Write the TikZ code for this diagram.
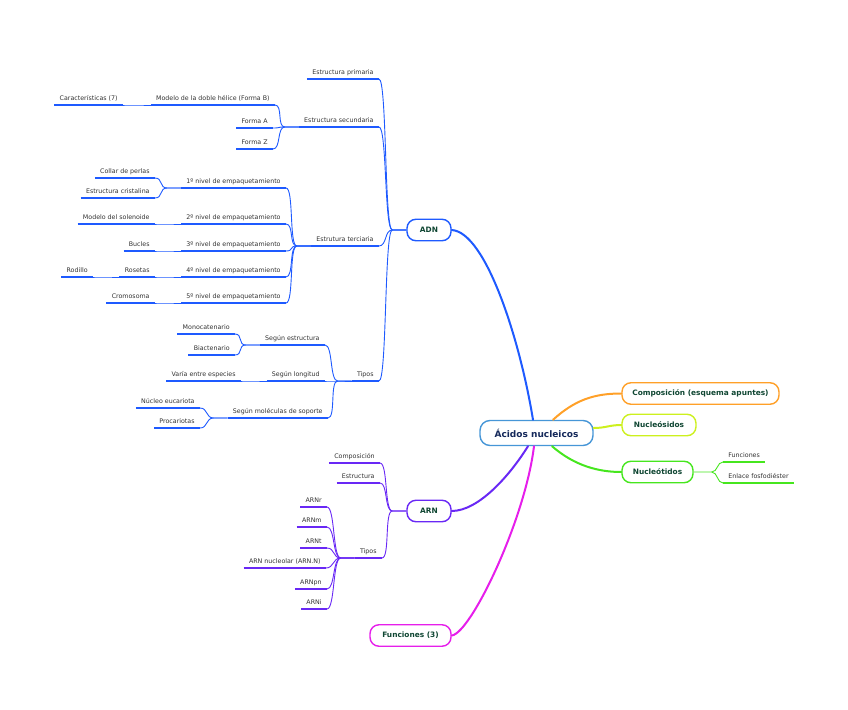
\documentclass[tikz,border=0pt]{standalone}
\usepackage{fontspec}
\setmainfont{DejaVu Sans}
\definecolor{cBlue}{RGB}{30,90,255}
\definecolor{cPurple}{RGB}{105,40,245}
\definecolor{cMag}{RGB}{230,30,235}
\definecolor{cOrange}{RGB}{255,160,40}
\definecolor{cYel}{RGB}{205,240,30}
\definecolor{cGreen}{RGB}{70,230,30}
\definecolor{cRoot}{RGB}{70,150,215}
\definecolor{cTxt}{RGB}{50,50,50}
\definecolor{cBoxTxt}{RGB}{15,70,50}
\definecolor{cRootTxt}{RGB}{20,40,90}
\tikzset{
  lbl/.style={inner xsep=5.2pt, inner ysep=2.6pt, text depth=2pt, font=\fontsize{6.3}{7}\selectfont, text=cTxt},
  ul/.style={line width=2.2pt},
  conn/.style={line width=0.9pt},
  box/.style={draw, rounded corners=9pt, line width=1.4pt, fill=white, minimum height=21.5pt, inner sep=2pt, font=\bfseries\fontsize{7.4}{9}\selectfont, text=cBoxTxt},
  rootbox/.style={draw=cRoot, rounded corners=10pt, line width=1.4pt, fill=white, minimum height=25pt, minimum width=113pt, font=\bfseries\fontsize{9}{11}\selectfont, text=cRootTxt},
  rootln/.style={line width=2pt, line cap=round},
}
\newcommand\mmL[4]{\node[lbl,anchor=south east] (#1) at (#2,#3) {#4};\draw[ul] (#1.south west) -- (#1.south east);}
\newcommand\mmR[4]{\node[lbl,anchor=south west] (#1) at (#2,#3) {#4};\draw[ul] (#1.south west) -- (#1.south east);}
\newcommand\mmLk[2]{\draw[conn] (#1.south east) .. controls +(8,0) and +(-8,0) .. ([xshift=-14pt]#2.south west) -- (#2.south west);}
\newcommand\mmLkb[2]{\draw[conn] (#1.south east) .. controls +(8,0) and +(-8,0) .. ([xshift=-14pt]#2.west) -- (#2.west);}
\begin{document}
\begin{tikzpicture}[x=1pt,y=-1pt]
\useasboundingbox (0,0) rectangle (848,709);

% main boxes
\node[rootbox] (root) at (536.5,433) {Ácidos nucleicos};
\node[box,draw=cBlue,minimum width=44pt] (adn) at (429,230) {ADN};
\node[box,draw=cPurple,minimum width=44pt] (arn) at (429,511) {ARN};
\node[box,draw=cMag,minimum width=81pt] (fun) at (410.5,635.5) {Funciones (3)};
\node[box,draw=cOrange,minimum width=157pt] (comp) at (700.5,393.5) {Composición (esquema apuntes)};
\node[box,draw=cYel,minimum width=74pt] (nsido) at (659,425) {Nucleósidos};
\node[box,draw=cGreen,minimum width=71pt] (ntido) at (657.5,472) {Nucleótidos};

% root connectors
\draw[rootln,cBlue] (adn.east) .. controls +(34,2) and +(-13,-80) .. ([xshift=-3.5pt]root.north);
\draw[rootln,cPurple] (arn.east) .. controls +(27,0) and +(-18,29) .. ([xshift=-8.5pt]root.south);
\draw[rootln,cMag] (fun.east) .. controls +(19,-2) and +(-9,74) .. ([xshift=-2.5pt]root.south);
\draw[rootln,cOrange] ([xshift=16.5pt]root.north) .. controls +(22,-20) and +(-27,0) .. (comp.west);
\draw[rootln,cYel] ([yshift=5pt]root.east) .. controls +(12,0) and +(-12,0) .. (nsido.west);
\draw[rootln,cGreen] ([xshift=15.5pt]root.south) .. controls +(23,20) and +(-22,0) .. (ntido.west);

% ADN branch
\begin{scope}[color=cBlue]
\mmL{prim}{379}{79}{Estructura primaria}
\mmL{secu}{379}{127}{Estructura secundaria}
\mmL{modelo}{275}{105}{Modelo de la doble hélice (Forma B)}
\mmL{caract}{123}{105}{Características (7)}
\mmL{formaA}{273}{128}{Forma A}
\mmL{formaZ}{273}{149}{Forma Z}
\mmL{terc}{379}{246}{Estrutura terciaria}
\mmL{nA}{286}{188}{1º nivel de empaquetamiento}
\mmL{collar}{155}{178}{Collar de perlas}
\mmL{cristal}{155}{198}{Estructura cristalina}
\mmL{nB}{286}{224}{2º nivel de empaquetamiento}
\mmL{solen}{155}{224}{Modelo del solenoide}
\mmL{nC}{286}{251}{3º nivel de empaquetamiento}
\mmL{bucles}{155}{251}{Bucles}
\mmL{nD}{286}{277}{4º nivel de empaquetamiento}
\mmL{rosetas}{155}{277}{Rosetas}
\mmL{rodillo}{93}{277}{Rodillo}
\mmL{nE}{286}{303}{5º nivel de empaquetamiento}
\mmL{cromo}{155}{303}{Cromosoma}
\mmL{tipos}{379}{381}{Tipos}
\mmL{sestr}{325}{345}{Según estructura}
\mmL{mono}{235}{334}{Monocatenario}
\mmL{biac}{235}{355}{Biactenario}
\mmL{slong}{325}{381}{Según longitud}
\mmL{varia}{241}{381}{Varía entre especies}
\mmL{smol}{328}{418}{Según moléculas de soporte}
\mmL{nucleo}{200}{408}{Núcleo eucariota}
\mmL{proc}{200}{428}{Procariotas}
\mmLkb{prim}{adn}
\mmLkb{secu}{adn}
\mmLkb{terc}{adn}
\mmLkb{tipos}{adn}
\mmLk{modelo}{secu}
\mmLk{formaA}{secu}
\mmLk{formaZ}{secu}
\mmLk{caract}{modelo}
\mmLk{nA}{terc}
\mmLk{nB}{terc}
\mmLk{nC}{terc}
\mmLk{nD}{terc}
\mmLk{nE}{terc}
\mmLk{collar}{nA}
\mmLk{cristal}{nA}
\mmLk{solen}{nB}
\mmLk{bucles}{nC}
\mmLk{rosetas}{nD}
\mmLk{rodillo}{rosetas}
\mmLk{cromo}{nE}
\mmLk{sestr}{tipos}
\mmLk{slong}{tipos}
\mmLk{smol}{tipos}
\mmLk{mono}{sestr}
\mmLk{biac}{sestr}
\mmLk{varia}{slong}
\mmLk{nucleo}{smol}
\mmLk{proc}{smol}
\end{scope}

% ARN branch
\begin{scope}[color=cPurple]
\mmL{acomp}{380}{463}{Composición}
\mmL{aestr}{380}{483}{Estructura}
\mmL{atipos}{382}{558}{Tipos}
\mmL{arnr}{327}{507}{ARNr}
\mmL{arnm}{327}{527}{ARNm}
\mmL{arnt}{327}{548}{ARNt}
\mmL{arnn}{326}{568}{ARN nucleolar (ARN.N)}
\mmL{arnpn}{327}{589}{ARNpn}
\mmL{arni}{327}{609}{ARNi}
\mmLkb{acomp}{arn}
\mmLkb{aestr}{arn}
\mmLkb{atipos}{arn}
\mmLk{arnr}{atipos}
\mmLk{arnm}{atipos}
\mmLk{arnt}{atipos}
\mmLk{arnn}{atipos}
\mmLk{arnpn}{atipos}
\mmLk{arni}{atipos}
\end{scope}

% Nucleotidos branch
\begin{scope}[color=cGreen]
\mmR{nfun}{723}{462}{Funciones}
\mmR{nenl}{723}{483}{Enlace fosfodiéster}
\coordinate (jn) at ([xshift=18pt]ntido.east);
\draw[conn] (ntido.east) -- (jn) .. controls +(6,0) and +(-6,0) .. (nfun.south west);
\draw[conn] (jn) .. controls +(6,0) and +(-6,0) .. (nenl.south west);
\end{scope}
\end{tikzpicture}
\end{document}
